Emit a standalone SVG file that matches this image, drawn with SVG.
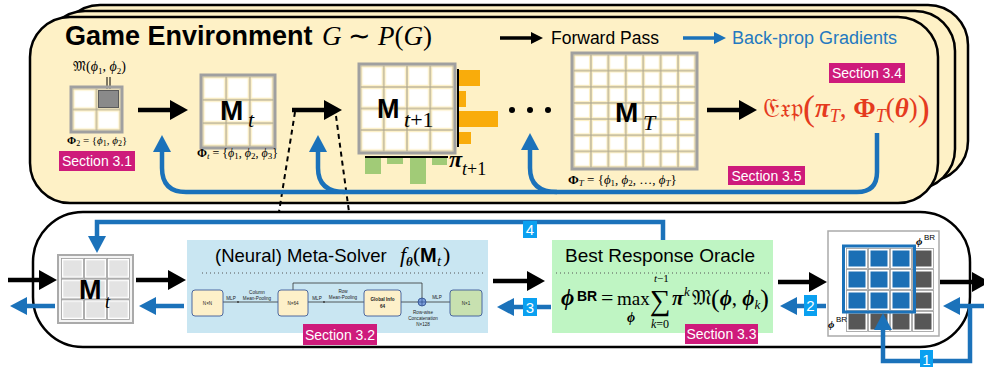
<svg xmlns="http://www.w3.org/2000/svg" width="984" height="367" viewBox="0 0 984 367">
<style>
.sans{font-family:"Liberation Sans",Arial,sans-serif}
.serif{font-family:"Liberation Serif","Times New Roman",serif}
.card{fill:#FEF1C6;stroke:#000;stroke-width:2.5}
.sec rect{fill:#CE1B7B}
.sec text{fill:#fff;font-family:"Liberation Sans",Arial,sans-serif;font-size:14px;text-anchor:middle}
.blk{stroke:#000;stroke-width:4.5;fill:none;marker-end:url(#ah)}
.blu{stroke:#1B72BA;stroke-width:4.5;fill:none;marker-end:url(#bh)}
.num rect{fill:#0AA0F0}
.num text{fill:#fff;font-family:"Liberation Sans",Arial,sans-serif;font-size:15px;text-anchor:middle}
.mtx{fill:none;stroke:#a0a0a0;stroke-width:3}
.tiny{font-family:"Liberation Sans",Arial,sans-serif;font-size:4.6px;text-anchor:middle;fill:#222}
.fbox{fill:#FDF0C9;stroke:#3D5A99;stroke-width:0.9}
.fl{stroke:#333;stroke-width:0.8;fill:none}
.dot{stroke:#555;stroke-width:1;stroke-dasharray:1 3;fill:none}
.dash{stroke:#000;stroke-width:2;stroke-dasharray:5 4;fill:none}
</style>
<defs>
<marker id="ah" viewBox="0 0 18 20" refX="4" refY="10" markerWidth="18" markerHeight="20" markerUnits="userSpaceOnUse" orient="auto"><path d="M0,0L18,10L0,20z" fill="#000"/></marker>
<marker id="bh" viewBox="0 0 17 18" refX="4" refY="9" markerWidth="17" markerHeight="18" markerUnits="userSpaceOnUse" orient="auto"><path d="M0,0L17,9L0,18z" fill="#1B72BA"/></marker>
<marker id="ahs" viewBox="0 0 12 12" refX="3" refY="6" markerWidth="12" markerHeight="12" markerUnits="userSpaceOnUse" orient="auto"><path d="M0,0L12,6L0,12z" fill="#000"/></marker>
<marker id="bhs" viewBox="0 0 12 12" refX="3" refY="6" markerWidth="12" markerHeight="12" markerUnits="userSpaceOnUse" orient="auto"><path d="M0,0L12,6L0,12z" fill="#1B72BA"/></marker>
<pattern id="pA" x="72.5" y="88.5" width="24" height="21" patternUnits="userSpaceOnUse"><rect width="24" height="21" fill="#b0a890"/><rect x="0.6" y="0.6" width="22.8" height="19.8" fill="#FDF1C8"/><rect x="2.2" y="2.2" width="19.6" height="16.6" fill="#fff"/></pattern>
<pattern id="pB" x="202.5" y="76.5" width="23.667" height="23.333" patternUnits="userSpaceOnUse"><rect width="23.667" height="23.333" fill="#b0a890"/><rect x="0.6" y="0.6" width="22.467" height="22.133" fill="#FDF1C8"/><rect x="2.2" y="2.2" width="19.267" height="18.933" fill="#fff"/></pattern>
<pattern id="pC" x="360.5" y="65.5" width="23.25" height="21.5" patternUnits="userSpaceOnUse"><rect width="23.25" height="21.5" fill="#b0a890"/><rect x="0.6" y="0.6" width="22.05" height="20.3" fill="#FDF1C8"/><rect x="2.2" y="2.2" width="18.85" height="17.1" fill="#fff"/></pattern>
<pattern id="pD" x="573.5" y="54.5" width="17.4286" height="16.1429" patternUnits="userSpaceOnUse"><rect width="17.4286" height="16.1429" fill="#b0a890"/><rect x="0.6" y="0.6" width="16.2286" height="14.9429" fill="#FDF1C8"/><rect x="2" y="2" width="13.4286" height="12.1429" fill="#fff"/></pattern>
<pattern id="pE" x="61" y="258" width="23" height="20.667" patternUnits="userSpaceOnUse"><rect width="23" height="20.667" fill="#fff"/><rect x="0.5" y="0.5" width="22" height="19.667" fill="#fff" stroke="#9a9a9a" stroke-width="0.8"/><rect x="2.3" y="2.3" width="18.4" height="16.067" fill="#e3e3e3"/></pattern>
<pattern id="pG" x="846" y="248" width="22" height="21" patternUnits="userSpaceOnUse"><rect width="22" height="21" fill="#fff"/><rect x="0.5" y="0.5" width="21" height="20" fill="#fff" stroke="#9a9a9a" stroke-width="0.8"/><rect x="2.5" y="2.5" width="17" height="16" fill="#575757"/></pattern>
<pattern id="pL" x="846" y="248" width="22" height="21" patternUnits="userSpaceOnUse"><rect width="22" height="21" fill="#fff"/><rect x="0.5" y="0.5" width="21" height="20" fill="#fff" stroke="#9a9a9a" stroke-width="0.8"/><rect x="2.5" y="2.5" width="17" height="16" fill="#1B6FB5"/></pattern>
</defs>

<g id="game-environment">
<rect class="card" x="60" y="5" width="908" height="176" rx="40"/>
<rect class="card" x="45" y="11" width="910" height="178" rx="40"/>
<rect class="card" x="30" y="17" width="908" height="186" rx="40"/>
<text x="65" y="45" class="sans" font-size="27" font-weight="bold">Game Environment</text>
<text x="322" y="45" class="serif" font-size="27"><tspan font-style="italic">G</tspan> ∼ <tspan font-style="italic">P</tspan>(<tspan font-style="italic">G</tspan>)</text>
</g>

<g id="legend">
<path d="M500 38L534 38" stroke="#000" stroke-width="3.5" marker-end="url(#ahs)"/>
<text x="551" y="44" class="sans" font-size="17.5">Forward Pass</text>
<path d="M683 38L717 38" stroke="#1B72BA" stroke-width="3.5" marker-end="url(#bhs)"/>
<text x="732" y="44" class="sans" font-size="18" fill="#2479C0">Back-prop Gradients</text>
</g>

<g id="matrix-phi2">
<text x="73" y="71" class="serif" font-size="14">𝔐(<tspan font-style="italic">ϕ</tspan><tspan font-size="9" dy="3">1</tspan><tspan dy="-3">, </tspan><tspan font-style="italic">ϕ</tspan><tspan font-size="9" dy="3">2</tspan><tspan dy="-3">)</tspan></text>
<path d="M107 77L107 92M110 77L110 92" stroke="#000" stroke-width="1"/>
<rect x="72.5" y="88.5" width="48" height="42" fill="url(#pA)"/>
<rect x="98.5" y="90.5" width="20" height="17" fill="#8a8a8a" stroke="#5a5a5a" stroke-width="1"/>
<rect class="mtx" x="71" y="87" width="51" height="45"/>
<text x="67" y="144" class="serif" font-size="11"><tspan font-weight="bold">Φ</tspan><tspan font-size="8" dy="2">2</tspan><tspan dy="-2"> = {</tspan><tspan font-style="italic">ϕ</tspan><tspan font-size="8" dy="2">1</tspan><tspan dy="-2">, </tspan><tspan font-style="italic">ϕ</tspan><tspan font-size="8" dy="2">2</tspan><tspan dy="-2">}</tspan></text>
<g class="sec"><rect x="59" y="151" width="76" height="20"/><text x="97" y="166">Section 3.1</text></g>
</g>

<g id="matrix-Mt">
<rect x="202.5" y="76.5" width="71" height="70" fill="url(#pB)"/>
<rect class="mtx" x="201" y="75" width="74" height="73"/>
<text x="220" y="120" class="sans" font-size="28" font-weight="bold">M</text>
<text x="248" y="127" class="serif" font-size="22" font-style="italic">t</text>
<text x="197" y="157" class="serif" font-size="12"><tspan font-weight="bold">Φ</tspan><tspan font-style="italic" font-size="9" dy="2">t</tspan><tspan dy="-2"> = {</tspan><tspan font-style="italic">ϕ</tspan><tspan font-size="9" dy="2">1</tspan><tspan dy="-2">, </tspan><tspan font-style="italic">ϕ</tspan><tspan font-size="9" dy="2">2</tspan><tspan dy="-2">, </tspan><tspan font-style="italic">ϕ</tspan><tspan font-size="9" dy="2">3</tspan><tspan dy="-2">}</tspan></text>
</g>

<g id="matrix-Mt1">
<rect x="360.5" y="65.5" width="93" height="86" fill="url(#pC)"/>
<rect class="mtx" x="359" y="64" width="96" height="89"/>
<text x="377" y="118" class="sans" font-size="27" font-weight="bold">M</text>
<text x="404" y="127" class="serif" font-size="22" font-style="italic">t<tspan font-style="normal">+1</tspan></text>
<path d="M458 69L458 147M365 157L448 157" stroke="#000" stroke-width="2"/>
<g fill="#F9AC0B"><rect x="459" y="70" width="21" height="16"/><rect x="459" y="91" width="7" height="16"/><rect x="459" y="111" width="39" height="16"/><rect x="459" y="132" width="12" height="12"/></g>
<g fill="#A1CB77"><rect x="365" y="158" width="16" height="16"/><rect x="387" y="158" width="16" height="6"/><rect x="410" y="158" width="16" height="26"/><rect x="432" y="158" width="15" height="7"/></g>
<text x="449" y="167" class="serif" font-size="24" font-weight="bold" font-style="italic">π</text>
<text x="462" y="175" class="serif" font-size="18" font-style="italic">t<tspan font-style="normal">+1</tspan></text>
</g>

<g id="ellipsis" fill="#000"><circle cx="512" cy="110" r="3"/><circle cx="530" cy="110" r="3"/><circle cx="548" cy="110" r="3"/></g>

<g id="matrix-MT">
<rect x="573.5" y="54.5" width="122" height="113" fill="url(#pD)"/>
<rect class="mtx" x="572" y="53" width="125" height="116"/>
<text x="615" y="122" class="sans" font-size="28" font-weight="bold">M</text>
<text x="643" y="130" class="serif" font-size="22" font-style="italic">T</text>
<text x="568" y="184" class="serif" font-size="13"><tspan font-weight="bold">Φ</tspan><tspan font-style="italic" font-size="9" dy="2">T</tspan><tspan dy="-2"> = {</tspan><tspan font-style="italic">ϕ</tspan><tspan font-size="9" dy="2">1</tspan><tspan dy="-2">, </tspan><tspan font-style="italic">ϕ</tspan><tspan font-size="9" dy="2">2</tspan><tspan dy="-2">, …, </tspan><tspan font-style="italic">ϕ</tspan><tspan font-style="italic" font-size="9" dy="2">T</tspan><tspan dy="-2">}</tspan></text>
</g>

<g id="exploitability">
<text x="763" y="117" class="serif" font-size="27" fill="#E53B1E">𝔈𝔵𝔭<tspan font-size="36" dy="3">(</tspan><tspan font-weight="bold" font-style="italic" dy="-3">π</tspan><tspan font-style="italic" font-size="18" dy="5">T</tspan><tspan dy="-5">, </tspan><tspan font-weight="bold">Φ</tspan><tspan font-style="italic" font-size="18" dy="5">T</tspan><tspan dy="-5">(</tspan><tspan font-weight="bold" font-style="italic">θ</tspan>)<tspan font-size="36" dy="3">)</tspan></text>
<g class="sec"><rect x="829" y="63" width="76" height="20"/><text x="867" y="78">Section 3.4</text></g>
<g class="sec"><rect x="728" y="166" width="77" height="19"/><text x="766.5" y="180.5">Section 3.5</text></g>
</g>

<g id="pipeline">
<rect x="33" y="212" width="937" height="135" rx="50" fill="#fff" stroke="#000" stroke-width="2.5"/>
</g>

<g id="node-Mt-grey">
<rect x="58" y="255" width="75" height="68" fill="#f4f4f4" stroke="#aaa" stroke-width="2"/>
<rect x="61" y="258" width="69" height="62" fill="url(#pE)"/>
<text x="79" y="299" class="sans" font-size="27" font-weight="bold">M</text>
<text x="105" y="308" class="serif" font-size="18" font-style="italic">t</text>
</g>

<g id="meta-solver">
<rect x="187" y="240" width="301" height="93" fill="#C9E6F2"/>
<text x="215" y="262" class="sans" font-size="18.5">(Neural) Meta-Solver</text>
<text x="400" y="262" class="serif" font-size="22" font-style="italic">f</text>
<text x="406" y="266" class="serif" font-size="13" font-style="italic" font-weight="bold">θ</text>
<text x="413" y="262" class="serif" font-size="22">(</text>
<text x="420" y="262" class="sans" font-size="20" font-weight="bold">M</text>
<text x="437" y="266" class="serif" font-size="15" font-style="italic">t</text>
<text x="443" y="262" class="serif" font-size="22">)</text>
<path class="dot" d="M202 273L483 273"/>
<path class="fl" d="M223 302L278 302M308 302L364 302M401 302L418 302M426 302L450 302M293 290L293 283L422 283L422 298"/>
<circle cx="238" cy="302" r="0.9" fill="#333"/><circle cx="324" cy="302" r="0.9" fill="#333"/>
<rect class="fbox" x="192" y="290" width="31" height="26" rx="3"/>
<rect class="fbox" x="278" y="290" width="30" height="26" rx="3"/>
<rect class="fbox" x="364" y="290" width="37" height="26" rx="3"/>
<rect x="450" y="290" width="32" height="26" rx="3" fill="#C8E1B0" stroke="#3D5A99" stroke-width="0.9"/>
<circle cx="422" cy="302" r="4" fill="#7C9FDB" stroke="#2B4A8A" stroke-width="0.8"/>
<path d="M418 302L426 302M422 298L422 306" stroke="#2B4A8A" stroke-width="0.7"/>
<text class="tiny" x="207.5" y="305" font-size="6">N×N</text>
<text class="tiny" x="293" y="305" font-size="6">N×64</text>
<text class="tiny" x="382.5" y="301" font-size="5.5" font-weight="bold">Global Info</text>
<text class="tiny" x="382.5" y="308" font-size="5.5" font-weight="bold">64</text>
<text class="tiny" x="466" y="305" font-size="6">N×1</text>
<text class="tiny" x="231" y="300">MLP</text>
<text class="tiny" x="257" y="294">Column</text>
<text class="tiny" x="257" y="300">Mean-Pooling</text>
<text class="tiny" x="317" y="300">MLP</text>
<text class="tiny" x="343" y="293">Row</text>
<text class="tiny" x="343" y="299">Mean-Pooling</text>
<text class="tiny" x="437" y="299">MLP</text>
<text class="tiny" x="423" y="314">Row-wise</text>
<text class="tiny" x="423" y="320">Concatenation</text>
<text class="tiny" x="423" y="326">N×128</text>
<g class="sec"><rect x="303" y="324" width="74" height="21"/><text x="340" y="339.5">Section 3.2</text></g>
</g>

<g id="best-response-oracle">
<rect x="552" y="240" width="221" height="93" fill="#BFF5C3"/>
<text x="565" y="262" class="sans" font-size="19">Best Response Oracle</text>
<path class="dot" d="M556 273L770 273"/>
<text x="561" y="305" class="serif" font-size="23" font-style="italic" font-weight="bold">ϕ</text>
<text x="577" y="301" class="sans" font-size="14" font-weight="bold">BR</text>
<text x="601" y="305" class="serif" font-size="22">=</text>
<text x="617" y="305" class="serif" font-size="19">max</text>
<text x="627" y="322" class="serif" font-size="14" font-style="italic" font-weight="bold">ϕ</text>
<text x="650" y="310" class="serif" font-size="29">∑</text>
<text x="654" y="282" class="serif" font-size="11" font-style="italic">t<tspan font-style="normal">−1</tspan></text>
<text x="651" y="328" class="serif" font-size="12" font-style="italic">k<tspan font-style="normal">=0</tspan></text>
<text x="672" y="305" class="serif" font-size="21" font-style="italic" font-weight="bold">π</text>
<text x="684" y="296" class="serif" font-size="13" font-style="italic">k</text>
<text x="692" y="305" class="serif" font-size="21">𝔐<tspan font-size="26" dy="2">(</tspan><tspan font-style="italic" font-weight="bold" dy="-2">ϕ</tspan>, <tspan font-style="italic" font-weight="bold">ϕ</tspan><tspan font-style="italic" font-size="13" dy="4">k</tspan><tspan font-size="26" dy="-2">)</tspan></text>
<g class="sec"><rect x="685" y="324" width="73" height="20"/><text x="721.5" y="339">Section 3.3</text></g>
</g>

<g id="population-matrix">
<rect x="828" y="231" width="111" height="105" fill="#fff" stroke="#aaa" stroke-width="1.5"/>
<rect x="846" y="248" width="88" height="84" fill="url(#pG)"/>
<rect x="846" y="248" width="66" height="63" fill="url(#pL)"/>
<rect x="843.5" y="246" width="71" height="66" fill="none" stroke="#1B72BA" stroke-width="3"/>
<text x="916" y="245" class="serif" font-size="11" font-style="italic" font-weight="bold">ϕ</text>
<text x="924" y="240" class="sans" font-size="8">BR</text>
<text x="828" y="328" class="serif" font-size="11" font-style="italic" font-weight="bold">ϕ</text>
<text x="836" y="322" class="sans" font-size="8">BR</text>
</g>

<g id="connectors">
<path class="blk" d="M138 110L174 110"/>
<path class="blk" d="M292 110L328 110"/>
<path class="blk" d="M707 110L743 110"/>
<path class="dash" d="M295 112L279 212M336 116L349 212"/>
<path class="blu" d="M877 133L877 172Q877 192 857 192L186 192Q162 192 162 168L162 148"/>
<path class="blu" d="M345 192Q318 192 318 168L318 148"/>
<path class="blu" d="M557 192Q530 192 530 168L530 146"/>
<path class="blk" d="M8 280L43 280"/>
<path class="blu" d="M55 306L23 306"/>
<path class="blk" d="M136 280L172 280"/>
<path class="blu" d="M184 306L152 306"/>
<path class="blk" d="M493 281L531 281"/>
<path class="blu" d="M551 307L510 307"/>
<path class="blk" d="M778 282L813 282"/>
<path class="blu" d="M826 306L793 306"/>
<path class="blk" d="M940 282L976 282"/>
<path class="blu" d="M986 306L956 306"/>
<path class="blu" d="M970 306L970 361L883 361L883 326"/>
<path class="blu" d="M663 240L663 222L97 222L97 240"/>
<g class="num"><rect x="523" y="221" width="14" height="17"/><text x="530" y="235">4</text></g>
<g class="num"><rect x="523" y="298" width="14" height="18"/><text x="530" y="312.5">3</text></g>
<g class="num"><rect x="804" y="295" width="13" height="21"/><text x="810.5" y="311">2</text></g>
<g class="num"><rect x="920" y="350" width="13" height="17"/><text x="926.5" y="365">1</text></g>
</g>
</svg>
